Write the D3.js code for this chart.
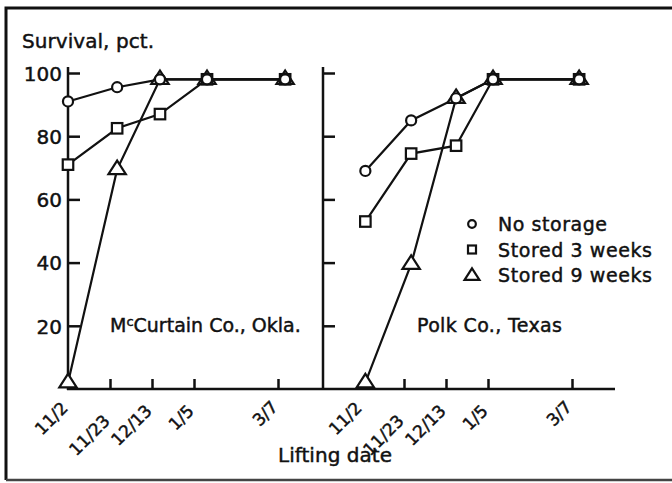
<!DOCTYPE html>
<html>
<head>
<meta charset="utf-8">
<script src="https://cdn.jsdelivr.net/npm/d3@7"></script>
<style>
  body { margin: 0; background: #fff; }
  svg text { font-family: "DejaVu Sans", sans-serif; fill: #111; stroke: #111; stroke-width: 0.45px; }
</style>
</head>
<body>
<div id="graph"></div>
<script>
// lifting dates (tick labels) and their slot on the axis
const dates = ["11/2", "11/23", "12/13", "1/5", "3/7"];
const dateSlot = [0, 1, 2, 3, 5];

// where the points were actually plotted, in slot units
const okPlotSlot = [0, 1.17, 2.19, 3.31, 5.17];
const txPlotSlot = [0.08, 1.17, 2.24, 3.12, 5.17];

// survival, pct.
const okNoStorage = [91, 95.5, 98, 98, 98];
const okStored3 = [71, 82.5, 87, 98, 98];
const okStored9 = [2, 69.5, 98, 98, 98];

const txNoStorage = [69, 85, 92, 98, 98];
const txStored3 = [53, 74.5, 77, 98, 98];
const txStored9 = [2, 39.5, 92, 98, 98];

const yTicks = [20, 40, 60, 80, 100];
const seriesNames = ["No storage", "Stored 3 weeks", "Stored 9 weeks"];
const shapes = ["circle", "square", "triangle"];

var width = 672, height = 483;
var baseY = 389;

var svg = d3.select("#graph")
  .append("svg")
  .attr("width", width)
  .attr("height", height);

// frame
svg.append("path")
  .attr("d", "M6,480 L6,8 L672,8")
  .attr("fill", "none")
  .attr("stroke", "#111")
  .attr("stroke-width", 3);
svg.append("line")
  .attr("x1", 6).attr("x2", 672)
  .attr("y1", 480).attr("y2", 480)
  .attr("stroke", "#444")
  .attr("stroke-width", 2.5);

var y = d3.scaleLinear().domain([0, 100]).range([baseY, 73]);

var panels = [
  { axisX: 68, x: d3.scaleLinear().domain([0, 5]).range([68, 278]), plot: okPlotSlot,
    series: [okNoStorage, okStored3, okStored9], labels: true },
  { axisX: 323, x: d3.scaleLinear().domain([0, 5]).range([362, 572]), plot: txPlotSlot,
    series: [txNoStorage, txStored3, txStored9], labels: false }
];

// x axis runs through both panels
svg.append("line")
  .attr("x1", 67).attr("x2", 615)
  .attr("y1", baseY).attr("y2", baseY)
  .attr("stroke", "#111")
  .attr("stroke-width", 2.5);

function marker(g, shape, size) {
  if (shape == "circle") {
    g.append("circle").attr("r", size * 0.48);
  } else if (shape == "square") {
    g.append("rect")
      .attr("x", -size / 2).attr("y", -size / 2)
      .attr("width", size).attr("height", size);
  } else {
    var h = size * 0.9;
    g.append("path")
      .attr("d", "M0," + (-h * 0.62) + " L" + (size * 0.62) + "," + (h * 0.45) +
        " L" + (-size * 0.62) + "," + (h * 0.45) + " Z");
  }
}

// tick label stagger (11/23 sits lower)
var labelDrop = [-3, 10, 0, 0, -4];

panels.forEach(function(p) {
  // y axis
  var yAxis = d3.axisRight(y)
    .tickValues(yTicks)
    .tickSize(12)
    .tickFormat(p.labels ? d3.format("d") : "");
  var ga = svg.append("g")
    .attr("transform", "translate(" + p.axisX + ",0)")
    .call(yAxis);
  ga.select(".domain").remove();
  ga.selectAll("line").attr("stroke", "#111").attr("stroke-width", 2.5);
  ga.selectAll("text")
    .attr("x", -6)
    .attr("dy", "0.36em")
    .attr("text-anchor", "end")
    .style("font-size", "20px");
  svg.append("line")
    .attr("x1", p.axisX).attr("x2", p.axisX)
    .attr("y1", 67).attr("y2", baseY + 1)
    .attr("stroke", "#111")
    .attr("stroke-width", 2.5);

  // x ticks point up
  var xAxis = d3.axisTop(p.x)
    .tickValues(dateSlot)
    .tickSize(10)
    .tickFormat("");
  var gx = svg.append("g")
    .attr("transform", "translate(0," + baseY + ")")
    .call(xAxis);
  gx.select(".domain").remove();
  gx.selectAll("line").attr("stroke", "#111").attr("stroke-width", 2.5);

  svg.append("g").selectAll("text")
    .data(dates)
    .enter().append("text")
    .attr("text-anchor", "end")
    .attr("transform", (d, i) => "translate(" + (p.x(dateSlot[i]) + 1) + "," +
      (baseY + 23 + labelDrop[i]) + ") rotate(-45)")
    .style("font-size", "17px")
    .text(d => d);

  // lines, then markers
  var line = d3.line()
    .x((d, i) => p.x(p.plot[i]))
    .y(d => y(d));
  p.series.forEach(function(s) {
    svg.append("path")
      .datum(s)
      .attr("d", line)
      .attr("fill", "none")
      .attr("stroke", "#111")
      .attr("stroke-width", 2.2);
  });
  [2, 1, 0].forEach(function(k) {
    p.series[k].forEach(function(v, i) {
      var g = svg.append("g")
        .attr("transform", "translate(" + p.x(p.plot[i]) + "," + (y(v) + (k == 2 ? -1 : 0)) + ")")
        .attr("fill", "#fff")
        .attr("stroke", "#111")
        .attr("stroke-width", 2.2);
      marker(g, shapes[k], k == 2 ? 14 : 10.5);
    });
  });
});

// titles
svg.append("text")
  .attr("x", 22).attr("y", 48)
  .attr("textLength", 132)
  .style("font-size", "20px")
  .text("Survival, pct.");

svg.append("text")
  .attr("x", 278).attr("y", 462)
  .attr("textLength", 114)
  .style("font-size", "20px")
  .text("Lifting date");

var ok = svg.append("text")
  .attr("x", 110).attr("y", 332)
  .style("font-size", "19px");
ok.append("tspan").text("M");
ok.append("tspan").attr("dy", -6).style("font-size", "13px").text("c");
ok.append("tspan").attr("dy", 6).text("Curtain Co., Okla.");

svg.append("text")
  .attr("x", 417).attr("y", 332)
  .attr("textLength", 145)
  .style("font-size", "19px")
  .text("Polk Co., Texas");

// legend
var legend = svg.append("g");
seriesNames.forEach(function(name, k) {
  var ly = 224 + k * 25.5;
  var g = legend.append("g")
    .attr("transform", "translate(472," + ly + ")")
    .attr("fill", "#fff")
    .attr("stroke", "#111")
    .attr("stroke-width", 2.2);
  marker(g, shapes[k], k == 2 ? 12 : 8);
  legend.append("text")
    .attr("x", 498).attr("y", ly + 7)
    .attr("textLength", k == 0 ? 109 : 154)
    .style("font-size", "19px")
    .text(name);
});
</script>
</body>
</html>
